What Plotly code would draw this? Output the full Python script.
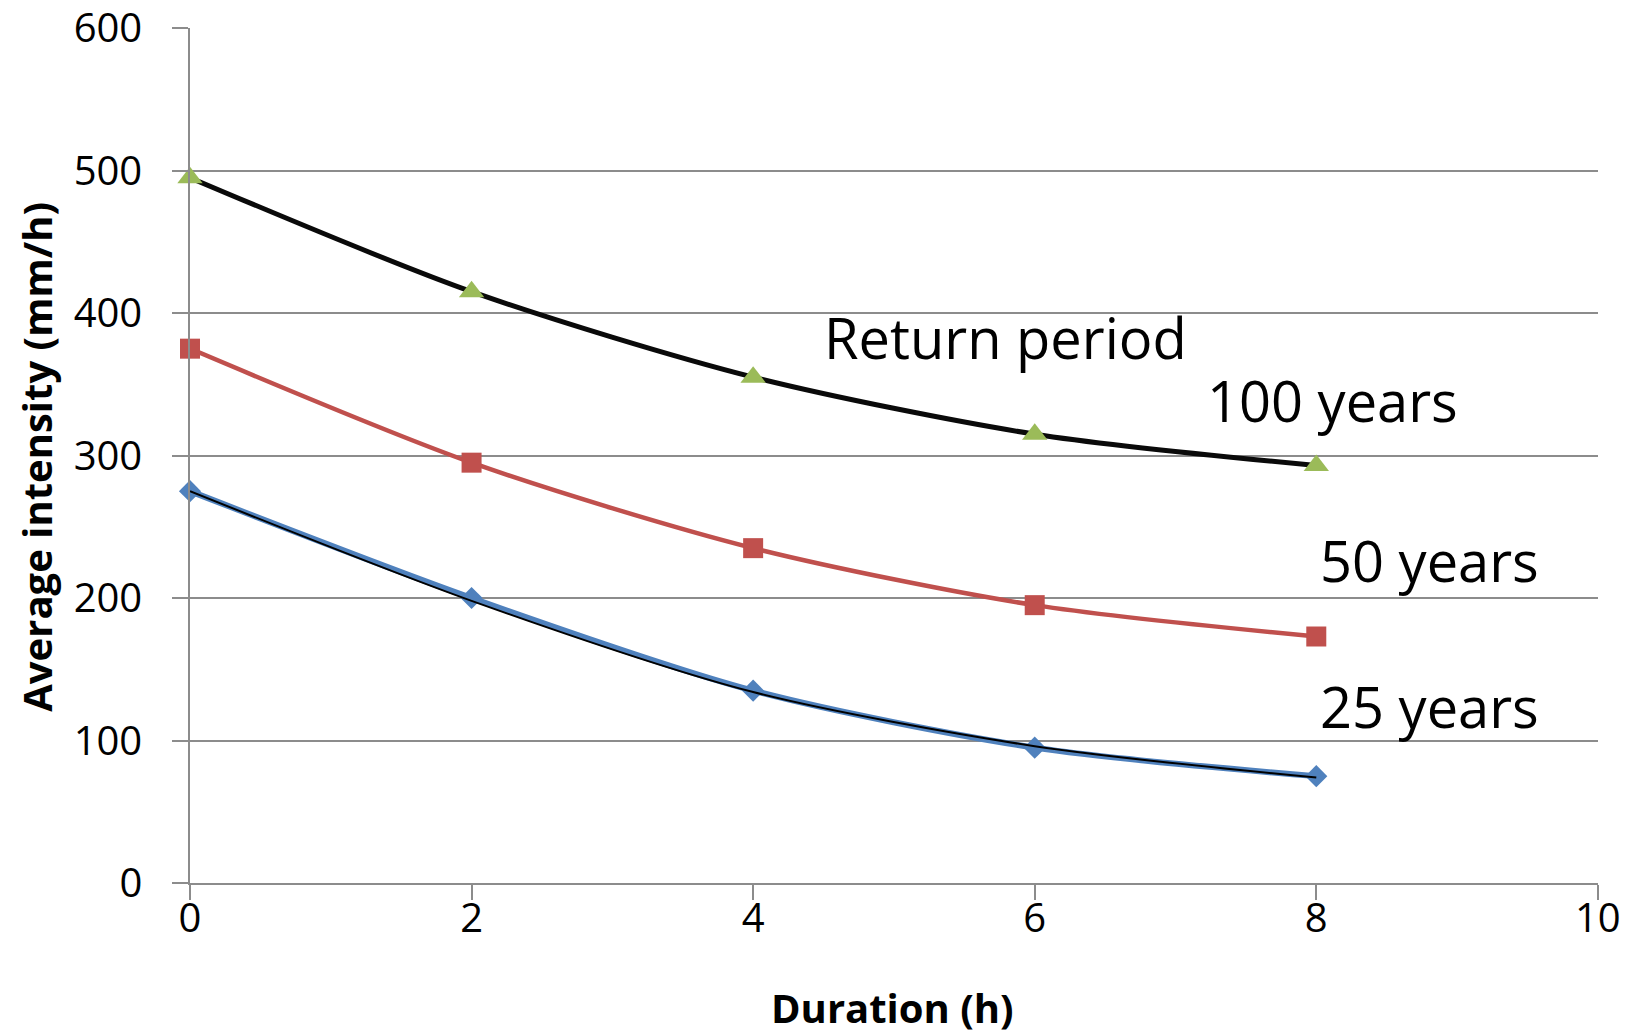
import plotly.graph_objects as go

duration = [0, 2, 4, 6, 8]
y100 = [495, 415, 355, 315, 293]
y50 = [375, 295, 235, 195, 173]
y25 = [275, 200, 135, 95, 75]
y25_trend = [275, 198, 134, 96, 74]

y_ticks = [0, 100, 200, 300, 400, 500, 600]
x_ticks = [0, 2, 4, 6, 8, 10]

labels = ["Return period", "100 years", "50 years", "25 years"]
label_x = [4.49, 7.21, 8.01, 8.01]
label_y = [383, 339, 227, 124]

FONT = "Open Sans"
GRID = "#8c8c8c"

fig = go.Figure()

fig.add_trace(go.Scatter(x=duration, y=y100, mode="lines",
                         line=dict(color="#0a0a0a", width=5, shape="spline", smoothing=0.8),
                         showlegend=False, hoverinfo="skip"))
fig.add_trace(go.Scatter(x=duration, y=y100, mode="markers",
                         marker=dict(symbol="triangle-up", color="#9BBB59", size=22),
                         showlegend=False, cliponaxis=False))

fig.add_trace(go.Scatter(x=duration, y=y50, mode="lines+markers",
                         line=dict(color="#C0504D", width=4.5, shape="spline", smoothing=0.8),
                         marker=dict(symbol="square", color="#C0504D", size=20),
                         showlegend=False, cliponaxis=False))

fig.add_trace(go.Scatter(x=duration, y=y25, mode="lines+markers",
                         line=dict(color="#4F81BD", width=6, shape="spline", smoothing=0.8),
                         marker=dict(symbol="diamond", color="#4F81BD", size=17),
                         showlegend=False, cliponaxis=False))
fig.add_trace(go.Scatter(x=duration, y=y25_trend, mode="lines",
                         line=dict(color="#000000", width=2, shape="spline", smoothing=0.8),
                         showlegend=False, hoverinfo="skip", cliponaxis=False))

for t, x, y in zip(labels, label_x, label_y):
    fig.add_annotation(x=x, y=y, text=t, showarrow=False, xanchor="left", yanchor="middle",
                       font=dict(family=FONT, size=56, color="#000000"))

fig.add_annotation(xref="paper", yref="paper", x=-0.109, y=0.498, text="<b>Average intensity (mm/h)</b>",
                   textangle=-90, showarrow=False, xanchor="center", yanchor="middle",
                   font=dict(family=FONT, size=40, color="#000000"))
fig.add_annotation(xref="paper", yref="paper", x=0.4986, y=-0.146, text="<b>Duration (h)</b>",
                   showarrow=False, xanchor="center", yanchor="middle",
                   font=dict(family=FONT, size=40, color="#000000"))

fig.update_layout(
    width=1627, height=1036,
    margin=dict(l=190, r=29, t=28, b=153, autoexpand=False),
    paper_bgcolor="white", plot_bgcolor="white",
    showlegend=False,
    font=dict(family=FONT, size=40, color="#000000"),
)
fig.update_xaxes(range=[0, 10.001], tickmode="array", tickvals=x_ticks,
                 ticktext=[str(v) for v in x_ticks],
                 showgrid=False, zeroline=False,
                 showline=True, linecolor=GRID, linewidth=1.5,
                 ticks="outside", ticklen=15, tickwidth=1.5, tickcolor=GRID,
                 ticklabelstandoff=-16, automargin=False, ticklabeloverflow="allow",
                 tickfont=dict(family=FONT, size=40, color="#000000"))
fig.update_yaxes(range=[0, 600.05], tickmode="array", tickvals=y_ticks,
                 ticktext=[str(v) for v in y_ticks],
                 showgrid=True, gridcolor=GRID, gridwidth=1.5,
                 zeroline=False, showline=True, linecolor=GRID, linewidth=1.5,
                 ticks="outside", ticklen=16, tickwidth=1.5, tickcolor=GRID,
                 ticklabelstandoff=22, automargin=False, ticklabeloverflow="allow",
                 tickfont=dict(family=FONT, size=40, color="#000000"))

fig.write_html("out.html")
